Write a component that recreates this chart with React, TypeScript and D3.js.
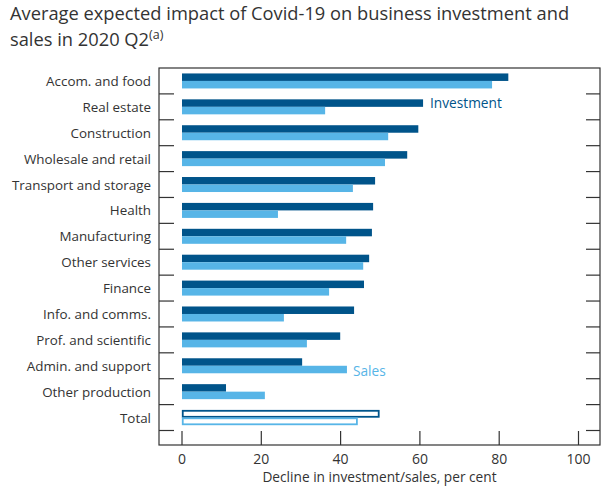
import React from "react";
import * as d3 from "d3";

const categories = [
  "Accom. and food",
  "Real estate",
  "Construction",
  "Wholesale and retail",
  "Transport and storage",
  "Health",
  "Manufacturing",
  "Other services",
  "Finance",
  "Info. and comms.",
  "Prof. and scientific",
  "Admin. and support",
  "Other production",
  "Total",
];
const investment = [82.3, 60.8, 59.6, 56.8, 48.7, 48.2, 47.9, 47.2, 45.9, 43.4, 39.9, 30.3, 11.1, 49.8];
const sales = [78.2, 36.1, 52.0, 51.2, 43.1, 24.2, 41.4, 45.7, 37.1, 25.7, 31.5, 41.6, 20.9, 44.3];
const xTicks = [0, 20, 40, 60, 80, 100];

const W = 601;
const H = 488;
const DARK = "#00548A";
const LIGHT = "#57B5E7";
const TEXT = "#333333";
const FONT = "'Open Sans', 'Noto Sans', sans-serif";

export default function App() {
  const frameL = 159, frameR = 600, frameT = 68, frameB = 445;
  const bandB = 430.5;
  const x = d3.scaleLinear().domain([0, 100]).range([182, 578.5]);
  const y = d3.scaleBand().domain(categories).range([frameT, bandB]).paddingInner(0).paddingOuter(0);
  const bw = y.bandwidth();
  const barH = 7.5;
  const lastIdx = categories.length - 1;

  return (
    <svg width={W} height={H} style={{ position: "absolute", left: 0, top: 0, background: "#fff" }} fontFamily={FONT}>
      <text x={10} y={20} fontSize={18.3} fill={TEXT}>Average expected impact of Covid-19 on business investment and</text>
      <text x={10} y={46} fontSize={18.3} fill={TEXT}>
        sales in 2020 Q2<tspan fontSize={12.5} dy={-7}>(a)</tspan>
      </text>

      {/* frame */}
      <rect x={frameL} y={frameT} width={frameR - frameL} height={frameB - frameT} fill="none" stroke={TEXT} strokeWidth={1.2} />

      {/* category separator ticks */}
      {categories.map((c, i) => {
        const yy = (y(c) as number) + bw;
        return (
          <g key={"t" + i}>
            <line x1={frameL} x2={frameL + 15} y1={yy} y2={yy} stroke={TEXT} strokeWidth={1.2} />
            <line x1={frameR - 14} x2={frameR} y1={yy} y2={yy} stroke={TEXT} strokeWidth={1.2} />
          </g>
        );
      })}

      {/* x ticks */}
      {xTicks.map((t) => (
        <g key={"x" + t}>
          <line x1={x(t)} x2={x(t)} y1={frameB} y2={frameB - 14} stroke={TEXT} strokeWidth={1.2} />
          <text x={x(t)} y={464} fontSize={14} fill={TEXT} textAnchor="middle">{t}</text>
        </g>
      ))}
      <text x={(frameL + frameR) / 2} y={482} fontSize={13.7} fill={TEXT} textAnchor="middle">
        Decline in investment/sales, per cent
      </text>

      {/* category labels */}
      {categories.map((c) => (
        <text key={"l" + c} x={151} y={(y(c) as number) + bw / 2 + 5} fontSize={13.4} fill={TEXT} textAnchor="end">
          {c}
        </text>
      ))}

      {/* bars */}
      {categories.map((c, i) => {
        const cy = (y(c) as number) + bw / 2;
        if (i === lastIdx) {
          return (
            <g key={"b" + i}>
              <rect x={x(0) + 0.75} y={cy - barH + 0.75} width={x(investment[i]) - x(0) - 1.5} height={barH - 1.5} fill="#fff" stroke={DARK} strokeWidth={1.8} />
              <rect x={x(0) + 0.75} y={cy + 0.75} width={x(sales[i]) - x(0) - 1.5} height={barH - 1.5} fill="#fff" stroke={LIGHT} strokeWidth={1.8} />
            </g>
          );
        }
        return (
          <g key={"b" + i}>
            <rect x={x(0)} y={cy - barH} width={x(investment[i]) - x(0)} height={barH} fill={DARK} />
            <rect x={x(0)} y={cy} width={x(sales[i]) - x(0)} height={barH} fill={LIGHT} />
          </g>
        );
      })}

      <text x={430} y={108} fontSize={13.7} fill={DARK}>Investment</text>
      <text x={353} y={376} fontSize={13.7} fill={LIGHT}>Sales</text>
    </svg>
  );
}
